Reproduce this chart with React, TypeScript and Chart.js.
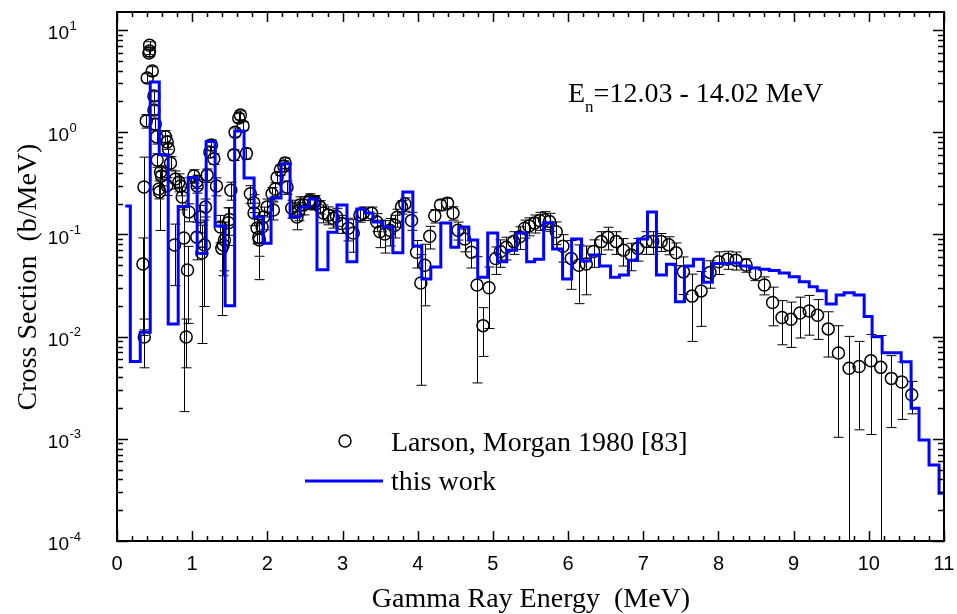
import React, { useEffect, useRef } from "react";
import { Chart, registerables } from "chart.js";

Chart.register(...registerables);

// ---------- data ----------
// "this work" histogram: bin edges (MeV) and bin values (b/MeV)
const histEdges = [
  0.11, 0.177, 0.309, 0.442, 0.562, 0.681, 0.814, 0.947, 1.066, 1.186,
  1.305, 1.438, 1.565, 1.69, 1.823, 1.943, 2.049, 2.182, 2.302, 2.435,
  2.555, 2.66, 2.806, 2.926, 3.059, 3.191, 3.298, 3.404, 3.537, 3.669,
  3.802, 3.935, 4.054, 4.174, 4.307, 4.44, 4.546, 4.679, 4.798, 4.931,
  5.064, 5.184, 5.316, 5.449, 5.555, 5.675, 5.794, 5.927, 6.047, 6.179,
  6.299, 6.418, 6.565, 6.684, 6.803, 6.923, 7.056, 7.175, 7.308, 7.428,
  7.547, 7.667, 7.8, 7.919, 8.039, 8.158, 8.291, 8.411, 8.543, 8.676,
  8.809, 8.942, 9.075, 9.207, 9.314, 9.433, 9.566, 9.672, 9.805, 9.938,
  10.044, 10.177, 10.43, 10.562, 10.668, 10.801, 10.934, 11.0,
];
const histValues = [
  0.19, 0.0057, 0.011, 3.1, 0.6, 0.0133, 0.187, 0.36, 0.065, 0.81,
  0.121, 0.02, 1.03, 0.356, 0.148, 0.082, 0.227, 0.49, 0.148, 0.185,
  0.222, 0.045, 0.105, 0.194, 0.054, 0.177, 0.162, 0.132, 0.118, 0.066,
  0.26, 0.077, 0.0366, 0.048, 0.129, 0.075, 0.118, 0.088, 0.038, 0.103,
  0.054, 0.07, 0.103, 0.054, 0.057, 0.13, 0.072, 0.0366, 0.09, 0.055,
  0.063, 0.049, 0.038, 0.04, 0.056, 0.09, 0.166, 0.04, 0.051, 0.0219,
  0.049, 0.057, 0.034, 0.052, 0.052, 0.0525, 0.049, 0.047, 0.0456, 0.0443,
  0.0418, 0.0385, 0.0344, 0.0308, 0.0281, 0.0208, 0.0255, 0.0269, 0.0255, 0.0157,
  0.00997, 0.00695, 0.00568, 0.00199, 0.000973, 0.000554, 0.000293,
];

// Larson, Morgan 1980 [83]: energy (MeV), cross section (b/MeV), relative error
const expEnergy = [
  0.345, 0.359, 0.363, 0.389, 0.402, 0.425, 0.433, 0.433, 0.469, 0.491,
  0.491, 0.509, 0.526, 0.535, 0.558, 0.566, 0.579, 0.592, 0.645, 0.664,
  0.668, 0.685, 0.712, 0.765, 0.778, 0.823, 0.845, 0.867, 0.89, 0.92,
  0.938, 0.956, 1.023, 1.062, 1.062, 1.066, 1.11, 1.129, 1.163, 1.177,
  1.199, 1.235, 1.256, 1.288, 1.323, 1.376, 1.394, 1.412, 1.429, 1.482,
  1.495, 1.514, 1.554, 1.571, 1.62, 1.641, 1.677, 1.721, 1.774, 1.819,
  1.823, 1.863, 1.886, 1.894, 1.93, 1.952, 1.996, 2.062, 2.08, 2.106,
  2.129, 2.173, 2.218, 2.235, 2.262, 2.324, 2.394, 2.417, 2.434, 2.483,
  2.55, 2.567, 2.616, 2.635, 2.7, 2.744, 2.81, 2.877, 2.92, 2.988,
  3.076, 3.142, 3.231, 3.275, 3.386, 3.453, 3.497, 3.563, 3.63, 3.696,
  3.726, 3.785, 3.829, 3.918, 3.984, 4.041, 4.094, 4.16, 4.227, 4.303,
  4.396, 4.47, 4.536, 4.625, 4.714, 4.789, 4.868, 4.948, 5.037, 5.1,
  5.179, 5.276, 5.356, 5.422, 5.479, 5.555, 5.621, 5.687, 5.753, 5.843,
  5.931, 6.042, 6.143, 6.242, 6.339, 6.441, 6.529, 6.64, 6.737, 6.839,
  6.927, 7.039, 7.126, 7.238, 7.339, 7.437, 7.534, 7.649, 7.769, 7.888,
  8.003, 8.122, 8.234, 8.367, 8.49, 8.61, 8.72, 8.845, 8.964, 9.084,
  9.207, 9.318, 9.46, 9.596, 9.738, 9.871, 10.027, 10.159, 10.3, 10.438,
  10.571,
];
const expValue = [
  0.0513, 0.291, 0.0099, 1.29, 3.39, 5.95, 7.1, 6.24, 3.97, 2.26,
  1.65, 1.2, 0.9, 0.535, 0.278, 0.26, 0.408, 0.373, 0.9, 0.3,
  0.8, 0.685, 0.5, 0.0788, 0.348, 0.326, 0.298, 0.232, 0.0922, 0.0099,
  0.0449, 0.166, 0.373, 0.33, 0.094, 0.298, 0.148, 0.0658, 0.0788, 0.185,
  0.38, 0.64, 0.75, 0.55, 0.298, 0.118, 0.073, 0.0788, 0.088, 0.13,
  0.14, 0.27, 0.6, 1.0, 1.38, 1.47, 1.15, 0.62, 0.25, 0.204,
  0.162, 0.1155, 0.094, 0.088, 0.118, 0.148, 0.185, 0.25, 0.173, 0.278,
  0.36, 0.427, 0.467, 0.5, 0.29, 0.18, 0.148, 0.17, 0.194, 0.194,
  0.207, 0.217, 0.204, 0.209, 0.186, 0.162, 0.155, 0.144, 0.15, 0.128,
  0.115, 0.103, 0.155, 0.161, 0.161, 0.133, 0.106, 0.101, 0.11, 0.123,
  0.147, 0.186, 0.198, 0.137, 0.067, 0.0334, 0.05, 0.096, 0.152, 0.194,
  0.202, 0.162, 0.11, 0.09, 0.067, 0.032, 0.0128, 0.03, 0.058, 0.068,
  0.075, 0.085, 0.095, 0.115, 0.121, 0.129, 0.137, 0.139, 0.134, 0.106,
  0.0765, 0.058, 0.05, 0.0513, 0.068, 0.085, 0.094, 0.085, 0.07, 0.063,
  0.073, 0.085, 0.085, 0.085, 0.079, 0.066, 0.043, 0.0249, 0.028, 0.0425,
  0.054, 0.057, 0.056, 0.0502, 0.0415, 0.032, 0.0216, 0.0154, 0.0148, 0.017,
  0.0178, 0.0162, 0.0119, 0.0069, 0.0049, 0.0051, 0.0058, 0.005, 0.0039, 0.0036,
  0.0027,
];
const expRelErr = [
  0.8, 0.96, 0.5, 0.15, 0.1, 0.08, 0.08, 0.08, 0.1, 0.1,
  0.1, 0.12, 0.15, 0.15, 0.2, 0.58, 0.15, 0.2, 0.15, 0.2,
  0.15, 0.15, 0.15, 0.6, 0.2, 0.2, 0.2, 0.25, 0.98, 0.5,
  0.7, 0.2, 0.15, 0.15, 0.4, 0.15, 0.3, 0.87, 0.75, 0.2,
  0.15, 0.12, 0.12, 0.12, 0.2, 0.3, 0.78, 0.5, 0.5, 0.4,
  0.3, 0.2, 0.12, 0.1, 0.1, 0.1, 0.1, 0.12, 0.2, 0.2,
  0.25, 0.3, 0.35, 0.59, 0.3, 0.25, 0.2, 0.15, 0.2, 0.15,
  0.12, 0.12, 0.12, 0.12, 0.15, 0.2, 0.25, 0.2, 0.2, 0.2,
  0.15, 0.15, 0.15, 0.15, 0.15, 0.2, 0.2, 0.2, 0.2, 0.2,
  0.25, 0.35, 0.15, 0.15, 0.15, 0.2, 0.3, 0.35, 0.3, 0.25,
  0.2, 0.15, 0.15, 0.2, 0.3, 0.9, 0.6, 0.25, 0.15, 0.12,
  0.12, 0.15, 0.2, 0.25, 0.3, 0.89, 0.5, 0.6, 0.3, 0.3,
  0.25, 0.25, 0.25, 0.2, 0.2, 0.2, 0.2, 0.2, 0.2, 0.25,
  0.3, 0.5, 0.58, 0.5, 0.3, 0.25, 0.25, 0.25, 0.3, 0.3,
  0.25, 0.25, 0.25, 0.2, 0.2, 0.25, 0.4, 0.64, 0.55, 0.3,
  0.25, 0.2, 0.2, 0.15, 0.15, 0.2, 0.41, 0.46, 0.47, 0.43,
  0.42, 0.42, 0.47, 0.85, 1.05, 0.76, 0.81, 1.05, 0.67, 0.57,
  0.35,
];

const xTickValues = [0, 1, 2, 3, 4, 5, 6, 7, 8, 9, 10, 11];
const yTickExponents = [1, 0, -1, -2, -3, -4];
const X_MIN = 0;
const X_MAX = 11;
const Y_MIN = 1e-4;
const Y_MAX = 15;

const xTitle = "Gamma Ray Energy  (MeV)";
const yTitle = "Cross Section  (b/MeV)";
const expLabel = "Larson, Morgan 1980 [83]";
const calcLabel = "this work";
const annotMain = "E";
const annotSub = "n";
const annotRest = "=12.03 - 14.02 MeV";

const SANS = '"Liberation Sans", Arial, Helvetica, sans-serif';
const SERIF = '"Liberation Serif", "Times New Roman", Times, serif';

const errorBarPlugin = {
  id: "errorBars",
  beforeDatasetsDraw(chart: any) {
    const { ctx, chartArea: a, scales } = chart;
    const x = scales.x;
    const y = scales.y;
    ctx.save();
    ctx.beginPath();
    ctx.rect(a.left, a.top, a.right - a.left, a.bottom - a.top);
    ctx.clip();
    ctx.strokeStyle = "#000";
    ctx.lineWidth = 1;
    for (let i = 0; i < expEnergy.length; i++) {
      const v = expValue[i];
      const r = expRelErr[i];
      const px = Math.round(x.getPixelForValue(expEnergy[i])) + 0.5;
      const hi = v * (1 + r);
      const lo = v * (1 - r);
      const pyHi = y.getPixelForValue(hi);
      const pyLo = lo > 0 ? y.getPixelForValue(lo) : a.bottom + 5;
      ctx.beginPath();
      ctx.moveTo(px, pyHi);
      ctx.lineTo(px, pyLo);
      ctx.moveTo(px - 5, pyHi);
      ctx.lineTo(px + 5, pyHi);
      if (lo > 0) {
        ctx.moveTo(px - 5, pyLo);
        ctx.lineTo(px + 5, pyLo);
      }
      ctx.stroke();
    }
    ctx.restore();
  },
};

const framePlugin = {
  id: "frame",
  afterDraw(chart: any) {
    const { ctx, chartArea: a, scales } = chart;
    const x = scales.x;
    const y = scales.y;
    ctx.save();
    ctx.strokeStyle = "#000";
    ctx.fillStyle = "#000";

    // ticks
    ctx.lineWidth = 1.5;
    ctx.beginPath();
    for (let k = 0; k <= 55; k++) {
      const val = k * 0.2;
      const px = Math.round(x.getPixelForValue(val)) + 0.5;
      const major = k % 5 === 0;
      const len = major ? 10 : 5;
      ctx.moveTo(px, a.bottom);
      ctx.lineTo(px, a.bottom - len);
      ctx.moveTo(px, a.top);
      ctx.lineTo(px, a.top + len);
    }
    for (let e = -4; e <= 1; e++) {
      for (let m = 1; m <= 9; m++) {
        const val = m * Math.pow(10, e);
        if (val < Y_MIN || val > Y_MAX) continue;
        const py = Math.round(y.getPixelForValue(val)) + 0.5;
        const len = m === 1 ? 11 : 6;
        ctx.moveTo(a.left, py);
        ctx.lineTo(a.left + len, py);
        ctx.moveTo(a.right, py);
        ctx.lineTo(a.right - len, py);
      }
    }
    ctx.stroke();

    // frame
    ctx.lineWidth = 2;
    ctx.strokeRect(a.left, a.top, a.right - a.left, a.bottom - a.top);

    // x tick labels
    ctx.font = "20px " + SANS;
    ctx.textAlign = "center";
    ctx.textBaseline = "alphabetic";
    for (const t of xTickValues) {
      ctx.fillText(String(t), x.getPixelForValue(t), 570);
    }

    // y tick labels 10^n
    for (const e of yTickExponents) {
      const py = y.getPixelForValue(Math.pow(10, e));
      ctx.font = "19px " + SANS;
      ctx.textAlign = "right";
      ctx.textBaseline = "middle";
      ctx.fillText("10", 69, py + 4);
      ctx.font = "13px " + SANS;
      ctx.textAlign = "left";
      ctx.fillText(String(e), 69.5, py - 4);
    }

    // axis titles
    ctx.font = "28px " + SERIF;
    ctx.textAlign = "center";
    ctx.textBaseline = "alphabetic";
    ctx.fillText(xTitle, 531, 607);
    ctx.save();
    ctx.translate(36, 277);
    ctx.rotate(-Math.PI / 2);
    ctx.fillText(yTitle, 0, 0);
    ctx.restore();

    // annotation
    ctx.textAlign = "left";
    ctx.font = "28px " + SERIF;
    let ax = 568;
    ctx.fillText(annotMain, ax, 102);
    ax += ctx.measureText(annotMain).width;
    ctx.font = "17px " + SERIF;
    ctx.fillText(annotSub, ax, 112);
    ax += ctx.measureText(annotSub).width;
    ctx.font = "28px " + SERIF;
    ctx.fillText(annotRest, ax, 102);

    // legend
    ctx.lineWidth = 1.5;
    ctx.beginPath();
    ctx.arc(345, 441, 6, 0, Math.PI * 2);
    ctx.stroke();
    ctx.font = "28px " + SERIF;
    ctx.fillText(expLabel, 391, 451);
    ctx.strokeStyle = "#0000ff";
    ctx.lineWidth = 3;
    ctx.beginPath();
    ctx.moveTo(305, 481);
    ctx.lineTo(383, 481);
    ctx.stroke();
    ctx.fillText(calcLabel, 391, 490);

    ctx.restore();
  },
};

export default function App() {
  const canvasRef = useRef<HTMLCanvasElement | null>(null);

  useEffect(() => {
    document.body.style.margin = "0";
    const canvas = canvasRef.current;
    if (!canvas) return;

    const histPts = histValues.map((v, i) => ({ x: histEdges[i], y: v }));
    histPts.push({ x: histEdges[histEdges.length - 1], y: histValues[histValues.length - 1] });
    const expPts = expEnergy.map((e, i) => ({ x: e, y: expValue[i] }));

    const chart = new Chart(canvas, {
      type: "scatter",
      data: {
        datasets: [
          {
            type: "line",
            label: calcLabel,
            data: histPts,
            stepped: "before",
            borderColor: "#0000ff",
            borderWidth: 3,
            borderJoinStyle: "miter",
            borderCapStyle: "butt",
            pointRadius: 0,
            fill: false,
            order: 0,
          } as any,
          {
            type: "scatter",
            label: expLabel,
            data: expPts,
            pointRadius: 6,
            pointHoverRadius: 6,
            pointBorderColor: "#000",
            pointBackgroundColor: "rgba(0,0,0,0)",
            pointBorderWidth: 1.5,
            order: 1,
          } as any,
        ],
      },
      options: {
        responsive: false,
        animation: false,
        events: [],
        layout: { padding: { left: 117, right: 13, top: 12, bottom: 73 } },
        scales: {
          x: { type: "linear", min: X_MIN, max: X_MAX, display: false },
          y: { type: "logarithmic", min: Y_MIN, max: Y_MAX, display: false },
        },
        plugins: {
          legend: { display: false },
          tooltip: { enabled: false },
        },
      },
      plugins: [errorBarPlugin, framePlugin],
    } as any);

    return () => chart.destroy();
  }, []);

  return (
    <canvas
      ref={canvasRef}
      width={957}
      height={614}
      style={{ display: "block", width: 957, height: 614 }}
    />
  );
}
